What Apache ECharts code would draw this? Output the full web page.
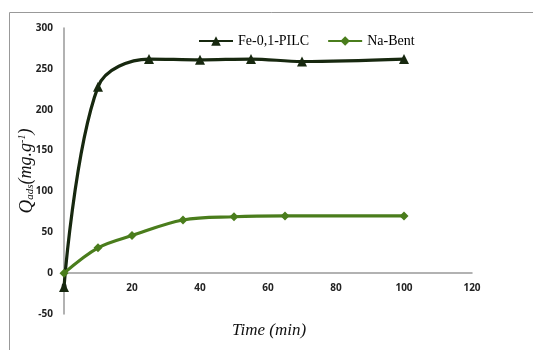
<!DOCTYPE html>
<html><head><meta charset="utf-8">
<script src="https://cdn.jsdelivr.net/npm/echarts@6/dist/echarts.min.js"></script>
<style>html,body{margin:0;padding:0;background:#fff}#c{width:533px;height:350px}</style>
</head><body><div id="c"></div>
<script>
const timeFe = [0, 10, 25, 40, 55, 70, 100];
const qFe = [-17, 228, 262, 261, 262, 259, 262];
const timeNa = [0, 10, 20, 35, 50, 65, 100];
const qNa = [0, 31, 46, 65, 69, 70, 70];
const xTicks = [0, 20, 40, 60, 80, 100, 120];
const yTicks = [-50, 0, 50, 100, 150, 200, 250, 300];
const xTitle = 'Time (min)';

const chart = echarts.init(document.getElementById('c'));
const pairs = (xs, ys) => xs.map((x, i) => [x, ys[i]]);
chart.setOption({
  animation: false,
  graphic: [
    {type:'rect', shape:{x:9.5, y:12.5, width:530, height:345}, style:{fill:'none', stroke:'#999', lineWidth:1}, z:-1},
    {type:'text', x: 269, y: 331, style: {text: xTitle, textAlign: 'center', textVerticalAlign: 'middle',
      font: 'italic 17px "Liberation Serif"', fill: '#111'}}
  ],
  grid: {left: 64, right: 61, top: 28, bottom: 36, containLabel: false, outerBoundsMode: 'none'},
  legend: {
    top: 29, left: 193, itemGap: 18, itemWidth: 34, itemHeight: 12,
    textStyle: {fontFamily: 'Liberation Serif', fontSize: 14, color: '#000'},
    data: ['Fe-0,1-PILC', 'Na-Bent']
  },
  xAxis: {
    type: 'value', min: xTicks[0], max: xTicks[xTicks.length-1], interval: 20,
    axisLine: {onZero: true, lineStyle: {color: '#999', width: 1.5}},
    axisTick: {show: false}, splitLine: {show: false},
    axisLabel: {margin: -31, fontFamily: 'Open Sans', fontWeight: 'bold', fontSize: 10, color: '#222'}
  },
  yAxis: {
    type: 'value', min: yTicks[0], max: yTicks[yTicks.length-1], interval: 50,
    axisLine: {show: true, onZero: false, lineStyle: {color: '#999', width: 1.5}},
    axisTick: {show: false}, splitLine: {show: false},
    axisLabel: {margin: 11, fontFamily: 'Open Sans', fontWeight: 'bold', fontSize: 10, color: '#222'},
    name: '{q|Q}{s|ads}{p|(mg.g}{sup|-1}{p|)}', nameLocation: 'middle', nameGap: 28, nameRotate: 90, nameMoveOverlap: false,
    nameTextStyle: {
      color: '#111',
      rich: {
        q: {fontFamily: 'Liberation Serif', fontStyle: 'italic', fontSize: 19, color: '#111'},
        s: {fontFamily: 'Liberation Serif', fontStyle: 'italic', fontSize: 11, color: '#111', verticalAlign: 'bottom', padding: [8, 0, 0, 0]},
        p: {fontFamily: 'Liberation Serif', fontStyle: 'italic', fontSize: 18, color: '#111'},
        sup: {fontFamily: 'Liberation Serif', fontStyle: 'italic', fontSize: 10, color: '#111', verticalAlign: 'top', padding: [0, 0, 8, 0]}
      }
    }
  },
  series: [
    {name: 'Fe-0,1-PILC', type: 'line', smooth: 0.35, data: pairs(timeFe, qFe),
     symbol: 'triangle', symbolSize: 10, lineStyle: {color: '#17280f', width: 3.2},
     itemStyle: {color: '#17280f'}, z: 3},
    {name: 'Na-Bent', type: 'line', smooth: 0.35, data: pairs(timeNa, qNa),
     symbol: 'diamond', symbolSize: 9, lineStyle: {color: '#4a7d1c', width: 3.2},
     itemStyle: {color: '#4a7d1c'}, z: 4}
  ]
});
</script></body></html>
